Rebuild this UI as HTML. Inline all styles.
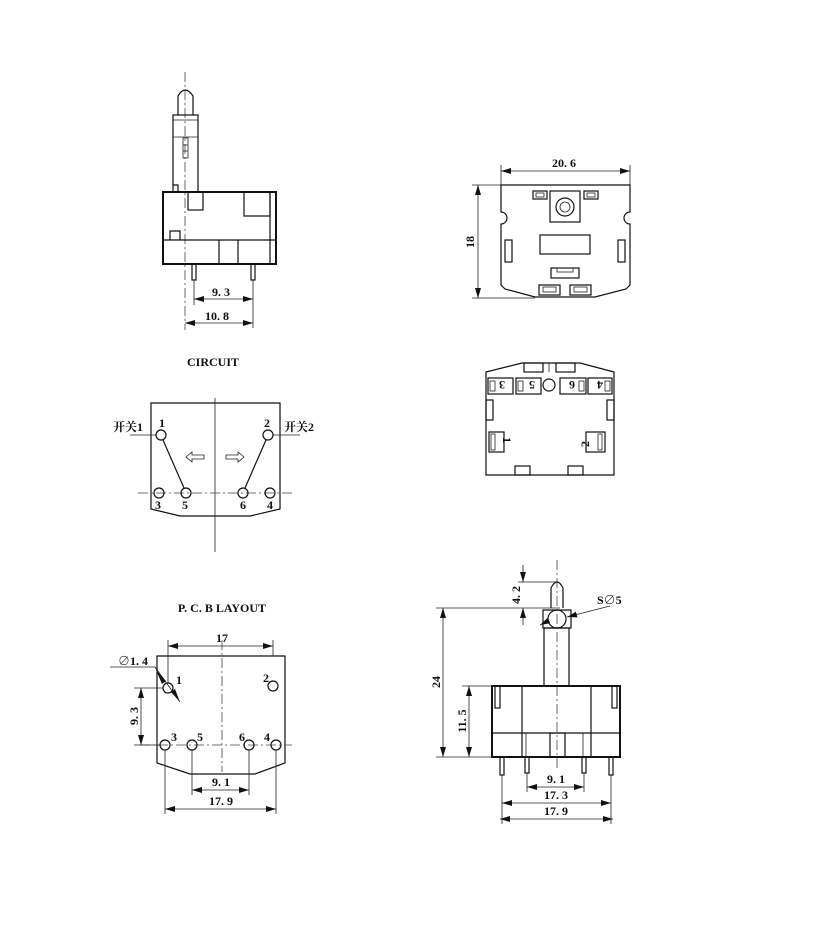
<!DOCTYPE html>
<html><head><meta charset="utf-8"><style>
html,body{margin:0;padding:0;background:#fff}
svg{display:block}
text{font-family:"Liberation Serif","Noto Serif CJK SC",serif;font-weight:bold;font-size:12px;fill:#111}
.l{stroke:#111;stroke-width:1.2;fill:none}
.t{stroke:#111;stroke-width:2;fill:none}
.th{stroke:#222;stroke-width:0.8;fill:none}
.c{stroke:#444;stroke-width:0.8;fill:none;stroke-dasharray:10,3,2,3}
</style></head><body>
<svg width="837" height="947" viewBox="0 0 837 947" xmlns="http://www.w3.org/2000/svg">
<defs>
<marker id="a" viewBox="0 0 10 6" refX="10" refY="3" markerWidth="10" markerHeight="6" orient="auto-start-reverse" markerUnits="userSpaceOnUse"><path d="M0,0 L10,3 L0,6 Z" fill="#111"/></marker>
</defs>

<!-- ===== Side view top-left ===== -->
<line class="c" x1="185" y1="72" x2="185" y2="330"/>
<path class="l" d="M178,115 L178,96 Q185,84 193,96 L193,115"/>
<rect class="l" x="173" y="115" width="25" height="77"/>
<line class="th" x1="173" y1="120" x2="198" y2="120"/>
<line class="th" x1="173" y1="137" x2="198" y2="137"/>
<rect class="th" x="183" y="138" width="5" height="20"/>
<line class="th" x1="183" y1="145" x2="188" y2="145"/>
<line class="th" x1="183" y1="151" x2="188" y2="151"/>
<path class="l" d="M173,185 L178,185 L178,192"/>
<rect class="t" x="163" y="192" width="113" height="72"/>
<line class="l" x1="270" y1="192" x2="270" y2="264"/>
<line class="l" x1="163" y1="240" x2="276" y2="240"/>
<rect class="l" x="188" y="192" width="15" height="18"/>
<rect class="l" x="244" y="192" width="26" height="24"/>
<path class="l" d="M170,240 L170,231 L180,231 L180,240"/>
<line class="l" x1="219" y1="240" x2="219" y2="264"/>
<line class="l" x1="238" y1="240" x2="238" y2="264"/>
<rect class="l" x="192" y="264" width="4" height="16"/>
<rect class="l" x="251" y="264" width="4" height="16"/>
<line class="th" x1="194" y1="280" x2="194" y2="305"/>
<line class="th" x1="253" y1="280" x2="253" y2="328"/>
<line class="th" x1="194" y1="299" x2="253" y2="299" marker-start="url(#a)" marker-end="url(#a)"/>
<text x="212" y="296">9. 3</text>
<line class="th" x1="185" y1="323" x2="253" y2="323" marker-start="url(#a)" marker-end="url(#a)"/>
<text x="205" y="320">10. 8</text>

<!-- ===== Top view right ===== -->
<line class="th" x1="501" y1="165" x2="501" y2="190"/>
<line class="th" x1="630" y1="165" x2="630" y2="190"/>
<line class="th" x1="501" y1="171" x2="630" y2="171" marker-start="url(#a)" marker-end="url(#a)"/>
<text x="552" y="167">20. 6</text>
<line class="th" x1="472" y1="185" x2="501" y2="185"/>
<line class="th" x1="472" y1="298" x2="535" y2="298"/>
<line class="th" x1="478" y1="185" x2="478" y2="298" marker-start="url(#a)" marker-end="url(#a)"/>
<text transform="translate(474,242) rotate(-90)" text-anchor="middle">18</text>
<path class="l" d="M501,185 L630,185 L630,212 A6,6 0 0 0 630,224 L630,285 L626,289 L595,297 L535,297 L505,289 L501,285 L501,224 A6,6 0 0 0 501,212 Z"/>
<rect class="l" x="550" y="191" width="30" height="31"/>
<circle class="l" cx="565" cy="207" r="9"/>
<circle class="th" cx="565" cy="207" r="5"/>
<rect class="l" x="533" y="191" width="14" height="8"/><rect class="th" x="536" y="193" width="8" height="4"/>
<rect class="l" x="584" y="191" width="14" height="8"/><rect class="th" x="587" y="193" width="8" height="4"/>
<rect class="l" x="540" y="235" width="50" height="19"/>
<rect class="l" x="505" y="240" width="7" height="22"/>
<rect class="l" x="618" y="240" width="7" height="22"/>
<rect class="l" x="551" y="268" width="28" height="10"/><rect class="th" x="557" y="268" width="16" height="4"/>
<rect class="l" x="539" y="285" width="21" height="10"/><rect class="th" x="543" y="287" width="13" height="5"/>
<rect class="l" x="570" y="285" width="21" height="10"/><rect class="th" x="574" y="287" width="13" height="5"/>

<!-- ===== Bottom view right ===== -->
<path class="l" d="M486,372 L522,363 L580,363 L614,372 L614,475 L486,475 Z"/>
<rect class="l" x="524" y="363" width="19" height="9"/>
<rect class="l" x="556" y="363" width="19" height="9"/>
<line class="th" x1="549" y1="363" x2="549" y2="372"/>
<rect class="l" x="488" y="378" width="25" height="16"/><text transform="translate(505,381) rotate(180)">3</text><rect class="th" x="490" y="381" width="5" height="10"/>
<rect class="l" x="516" y="378" width="25" height="16"/><text transform="translate(535,381) rotate(180)">5</text><rect class="th" x="518" y="381" width="5" height="10"/>
<circle class="l" cx="549" cy="385" r="6"/>
<rect class="l" x="560" y="378" width="26" height="16"/><text transform="translate(575,381) rotate(180)">6</text><rect class="th" x="579" y="381" width="5" height="10"/>
<rect class="l" x="588" y="378" width="24" height="16"/><text transform="translate(603,381) rotate(180)">4</text><rect class="th" x="605" y="381" width="5" height="10"/>
<rect class="l" x="486" y="400" width="7" height="20"/>
<rect class="l" x="607" y="400" width="7" height="20"/>
<rect class="l" x="489" y="432" width="15" height="20"/><text transform="translate(503,437) rotate(90)">1</text><rect class="th" x="491" y="434" width="4" height="16"/>
<rect class="l" x="586" y="432" width="19" height="20"/><text transform="translate(589,447) rotate(-90)">2</text><rect class="th" x="598" y="434" width="4" height="16"/>
<rect class="l" x="515" y="466" width="15" height="9"/>
<rect class="l" x="568" y="466" width="15" height="9"/>

<!-- ===== CIRCUIT ===== -->
<text x="213" y="366" text-anchor="middle">CIRCUIT</text>
<path class="l" d="M151,509 L151,403 L280,403 L280,509 L250,516 L180,516 Z"/>
<line class="th" x1="215" y1="398" x2="215" y2="552"/>
<line class="c" x1="138" y1="493" x2="293" y2="493"/>
<line class="th" x1="130" y1="435" x2="156" y2="435"/>
<line class="th" x1="273" y1="435" x2="300" y2="435"/>
<circle class="l" cx="161" cy="435" r="5" fill="#fff"/>
<circle class="l" cx="268" cy="435" r="5" fill="#fff"/>
<circle class="l" cx="159" cy="493" r="5" fill="#fff"/>
<circle class="l" cx="186" cy="493" r="5" fill="#fff"/>
<circle class="l" cx="243" cy="493" r="5" fill="#fff"/>
<circle class="l" cx="270" cy="493" r="5" fill="#fff"/>
<line class="l" x1="163" y1="440" x2="184" y2="488"/>
<line class="l" x1="266" y1="440" x2="245" y2="488"/>
<text x="162" y="427" text-anchor="middle">1</text>
<text x="267" y="427" text-anchor="middle">2</text>
<text x="158" y="509" text-anchor="middle">3</text>
<text x="185" y="509" text-anchor="middle">5</text>
<text x="243" y="509" text-anchor="middle">6</text>
<text x="270" y="509" text-anchor="middle">4</text>
<text x="113" y="431">开关1</text>
<text x="284" y="431">开关2</text>
<path class="th" d="M186,457 L192,452 L192,455 L204,455 L204,459 L192,459 L192,462 Z"/>
<path class="th" d="M244,457 L238,452 L238,455 L226,455 L226,459 L238,459 L238,462 Z"/>

<!-- ===== PCB LAYOUT ===== -->
<text x="222" y="612" text-anchor="middle">P. C. B  LAYOUT</text>
<path class="l" d="M157,763 L157,656 L285,656 L285,763 L255,774 L190,774 Z"/>
<line class="c" x1="222" y1="640" x2="222" y2="772"/>
<line class="c" x1="140" y1="745" x2="292" y2="745"/>
<line class="th" x1="168" y1="640" x2="168" y2="683"/>
<line class="th" x1="273" y1="640" x2="273" y2="656"/>
<line class="th" x1="168" y1="646" x2="273" y2="646" marker-start="url(#a)" marker-end="url(#a)"/>
<text x="222" y="642" text-anchor="middle">17</text>
<circle class="l" cx="168" cy="688" r="5" fill="#fff"/>
<circle class="l" cx="273" cy="686" r="5" fill="#fff"/>
<circle class="l" cx="165" cy="745" r="5" fill="#fff"/>
<circle class="l" cx="192" cy="745" r="5" fill="#fff"/>
<circle class="l" cx="249" cy="745" r="5" fill="#fff"/>
<circle class="l" cx="276" cy="745" r="5" fill="#fff"/>
<text x="176" y="684">1</text>
<text x="263" y="682">2</text>
<text x="171" y="741">3</text>
<text x="197" y="741">5</text>
<text x="239" y="741">6</text>
<text x="264" y="741">4</text>
<text x="118" y="665">∅1. 4</text>
<path class="th" d="M110,667 L155,667 L165,682"/>
<line class="th" x1="155" y1="667" x2="180" y2="702"/>
<path d="M156,670 L166,681 L162,684 Z M180,702 L171,692 L175,689 Z" fill="#111"/>
<line class="th" x1="134" y1="688" x2="163" y2="688"/>
<line class="th" x1="134" y1="745" x2="160" y2="745"/>
<line class="th" x1="141" y1="688" x2="141" y2="745" marker-start="url(#a)" marker-end="url(#a)"/>
<text transform="translate(138,716) rotate(-90)" text-anchor="middle">9. 3</text>
<line class="th" x1="192" y1="750" x2="192" y2="795"/>
<line class="th" x1="249" y1="750" x2="249" y2="795"/>
<line class="th" x1="165" y1="750" x2="165" y2="814"/>
<line class="th" x1="276" y1="750" x2="276" y2="814"/>
<line class="th" x1="192" y1="790" x2="249" y2="790" marker-start="url(#a)" marker-end="url(#a)"/>
<text x="221" y="786" text-anchor="middle">9. 1</text>
<line class="th" x1="165" y1="809" x2="276" y2="809" marker-start="url(#a)" marker-end="url(#a)"/>
<text x="221" y="805" text-anchor="middle">17. 9</text>

<!-- ===== Front view bottom-right ===== -->
<line class="c" x1="557" y1="560" x2="557" y2="770"/>
<path class="l" d="M551,608 L551,588 Q557,576 563,588 L563,608"/>
<path class="l" d="M543,610 L571,610 L571,628 L543,628 Z"/>
<circle class="l" cx="557" cy="619" r="9"/>
<rect class="l" x="544" y="628" width="25" height="58"/>
<rect class="t" x="492" y="686" width="128" height="71"/>
<line class="l" x1="522" y1="686" x2="522" y2="757"/>
<line class="l" x1="591" y1="686" x2="591" y2="757"/>
<line class="l" x1="492" y1="733" x2="620" y2="733"/>
<rect class="l" x="550" y="733" width="15" height="24"/>
<line class="th" x1="526" y1="733" x2="526" y2="757"/>
<line class="th" x1="583" y1="733" x2="583" y2="757"/>
<rect class="l" x="495" y="686" width="5" height="22"/>
<rect class="l" x="612" y="686" width="5" height="22"/>
<rect class="l" x="500" y="757" width="4" height="18"/>
<rect class="l" x="525" y="757" width="4" height="16"/>
<rect class="l" x="582" y="757" width="4" height="16"/>
<rect class="l" x="609" y="757" width="4" height="18"/>
<line class="th" x1="518" y1="582" x2="557" y2="582"/>
<line class="th" x1="436" y1="608" x2="560" y2="608"/>
<line class="th" x1="523" y1="565" x2="523" y2="582" marker-end="url(#a)"/>
<line class="th" x1="523" y1="625" x2="523" y2="608" marker-end="url(#a)"/>
<text transform="translate(520,595) rotate(-90)" text-anchor="middle">4. 2</text>
<text x="597" y="604">S∅5</text>
<line class="th" x1="610" y1="606" x2="567" y2="617" marker-end="url(#a)"/>
<line class="th" x1="540" y1="625" x2="548" y2="621" marker-start="url(#a)"/>
<line class="th" x1="436" y1="757" x2="492" y2="757"/>
<line class="th" x1="462" y1="686" x2="492" y2="686"/>
<line class="th" x1="443" y1="608" x2="443" y2="757" marker-start="url(#a)" marker-end="url(#a)"/>
<text transform="translate(440,682) rotate(-90)" text-anchor="middle">24</text>
<line class="th" x1="469" y1="686" x2="469" y2="757" marker-start="url(#a)" marker-end="url(#a)"/>
<text transform="translate(466,721) rotate(-90)" text-anchor="middle">11. 5</text>
<line class="th" x1="527" y1="773" x2="527" y2="792"/>
<line class="th" x1="584" y1="773" x2="584" y2="792"/>
<line class="th" x1="502" y1="775" x2="502" y2="824"/>
<line class="th" x1="611" y1="775" x2="611" y2="824"/>
<line class="th" x1="527" y1="787" x2="584" y2="787" marker-start="url(#a)" marker-end="url(#a)"/>
<text x="556" y="783" text-anchor="middle">9. 1</text>
<line class="th" x1="502" y1="803" x2="611" y2="803" marker-start="url(#a)" marker-end="url(#a)"/>
<text x="556" y="799" text-anchor="middle">17. 3</text>
<line class="th" x1="500" y1="819" x2="613" y2="819" marker-start="url(#a)" marker-end="url(#a)"/>
<text x="556" y="815" text-anchor="middle">17. 9</text>
</svg>
</body></html>
